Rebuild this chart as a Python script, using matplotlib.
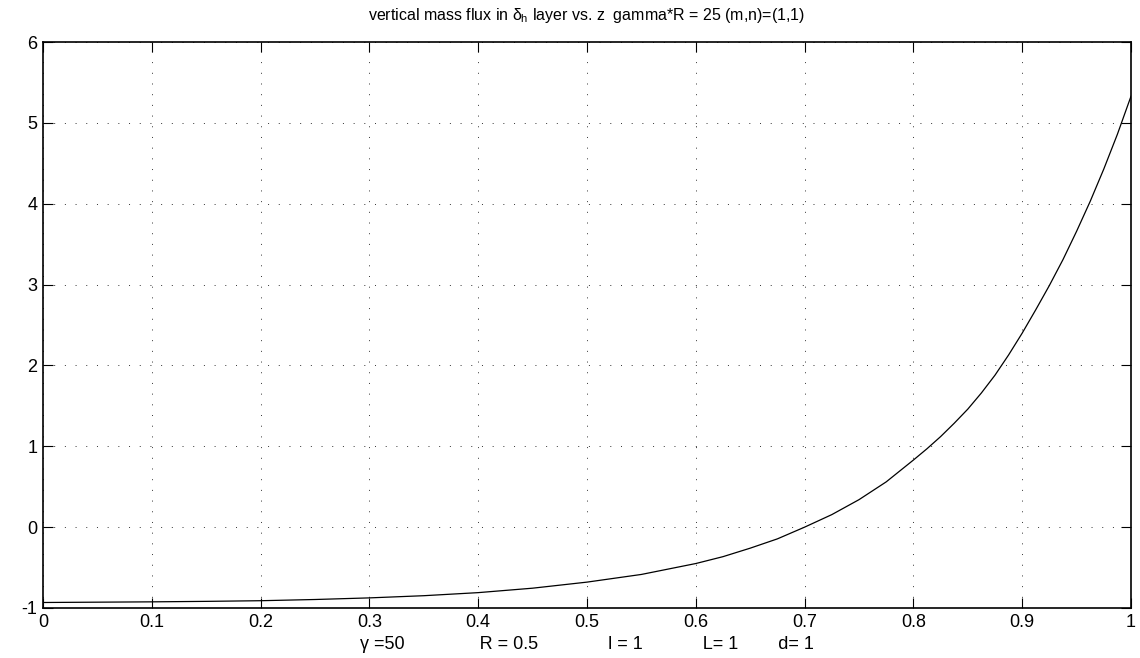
import matplotlib
matplotlib.use("Agg")
import matplotlib.pyplot as plt

# values
z = [0.0, 0.05, 0.1, 0.15, 0.2, 0.25, 0.3, 0.35, 0.4, 0.45, 0.5, 0.55,
     0.6, 0.625, 0.65, 0.675, 0.7, 0.725, 0.75, 0.775, 0.8, 0.8125, 0.825,
     0.8375, 0.85, 0.8625, 0.875, 0.8875, 0.9, 0.9125, 0.925, 0.9375, 0.95,
     0.9625, 0.975, 0.9875, 1.0]
flux = [-0.932, -0.928, -0.924, -0.918, -0.91, -0.895, -0.875, -0.848, -0.81,
        -0.755, -0.68, -0.585, -0.45, -0.365, -0.26, -0.145, 0.0, 0.155, 0.34,
        0.56, 0.83, 0.97, 1.12, 1.285, 1.46, 1.66, 1.88, 2.13, 2.40, 2.69,
        2.99, 3.31, 3.66, 4.03, 4.43, 4.86, 5.33]

xticks = [0, 0.1, 0.2, 0.3, 0.4, 0.5, 0.6, 0.7, 0.8, 0.9, 1]
xticklabels = ["0", "0.1", "0.2", "0.3", "0.4", "0.5", "0.6", "0.7", "0.8", "0.9", "1"]
yticks = [-1, 0, 1, 2, 3, 4, 5, 6]

plt.rcParams["font.family"] = ["Liberation Sans", "DejaVu Sans"]
plt.rcParams["mathtext.fontset"] = "custom"
plt.rcParams["mathtext.rm"] = "Liberation Sans"
plt.rcParams["mathtext.it"] = "Liberation Sans"
plt.rcParams["axes.unicode_minus"] = False

fig = plt.figure(figsize=(11.4, 6.58), dpi=100)
ax = fig.add_axes([0.0377, 0.076, 0.9544, 0.860])

ax.plot(z, flux, color="black", linewidth=0.9)

ax.set_xlim(0, 1)
ax.set_ylim(-1, 6)
ax.set_xticks(xticks)
ax.set_xticklabels(xticklabels)
ax.set_yticks(yticks)
ax.tick_params(direction="in", top=True, right=True, length=7, width=0.8,
               labelsize=13, pad=4)
ax.grid(True, color="#333333", linestyle=(0, (1, 10)), linewidth=0.7)
for s in ax.spines.values():
    s.set_linewidth(1.2)

ax.set_title(r"vertical mass flux in $\delta_h$ layer vs. z  gamma*R = 25 (m,n)=(1,1)",
             fontsize=11.5, pad=16)
gap = lambda n: " " * n
ax.set_xlabel("\u03b3 =50" + gap(15) + "R = 0.5" + gap(14) + "l = 1" + gap(12)
              + "L= 1" + gap(8) + "d= 1", fontsize=13, labelpad=4)

fig.savefig("out.png", dpi=100, facecolor="white")
